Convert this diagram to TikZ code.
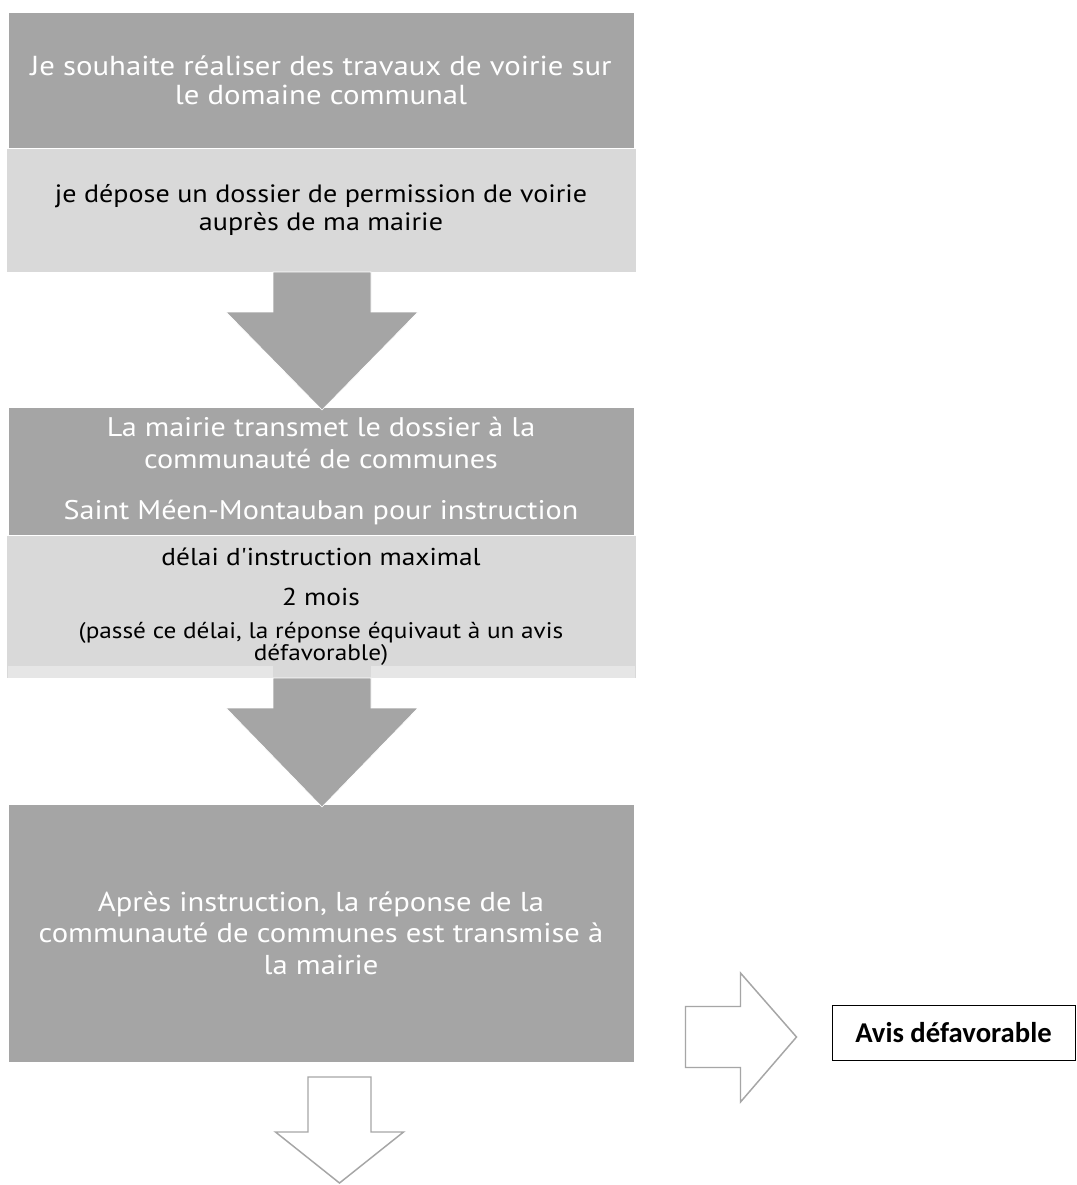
\documentclass[tikz,border=0pt]{standalone}
\usepackage{fontspec}
\setmainfont{PT Sans}
\newfontfamily\wfont[FakeStretch=1.12]{PT Sans}
\newfontfamily\avisfont{Carlito}
\usetikzlibrary{calc}
\definecolor{darkfill}{HTML}{A5A5A5}
\definecolor{lightfill}{HTML}{D9D9D9}
\definecolor{stripfill}{HTML}{E6E6E6}
\definecolor{outlinegray}{HTML}{A6A6A6}
\begin{document}
\begin{tikzpicture}[x=0.75pt,y=-0.75pt,
  darkbox/.style={rectangle, fill=darkfill, draw=white, line width=0.4pt, inner sep=0pt, outer sep=0pt, text=white, align=center},
  lightbox/.style={rectangle, fill=lightfill, draw=white, line width=0.4pt, inner sep=0pt, outer sep=0pt, text=black, align=center},
  fullarrow/.style={fill=darkfill, draw=white, line width=0.5pt},
  hollowarrow/.style={fill=white, draw=outlinegray, line width=1.1pt},
  avisbox/.style={rectangle, draw=black, line width=0.75pt, fill=white, inner sep=0pt, font=\avisfont\bfseries\fontsize{21.5}{24}\selectfont}]
\useasboundingbox (0,0) rectangle (1076,1185);
\fill[white] (0,0) rectangle (1076,1185);

% boxes
\node[darkbox, font=\wfont\fontsize{20.6}{21.75}\selectfont, minimum width=469.5pt, minimum height=102pt] (b1) at (321,80)
  {Je souhaite réaliser des travaux de voirie sur\\le domaine communal};
\node[lightbox, font=\wfont\fontsize{18.8}{20.5}\selectfont, minimum width=472.5pt, minimum height=93pt] (b2) at (321,210)
  {je dépose un dossier de permission de voirie\\auprès de ma mairie};
\node[darkbox, font=\wfont\fontsize{20.2}{24}\selectfont, minimum width=469.5pt, minimum height=96pt] (b3) at (321,471)
  {La mairie transmet le dossier à la\\communauté de communes\\[14pt]Saint Méen-Montauban pour instruction};
\node[lightbox, minimum width=472.5pt, minimum height=107.25pt] (b4) at (321,606.5) {};
\fill[stripfill] (8,666) rectangle (635,678);
\fill[lightfill] (273,666) rectangle (371,678);
\node[align=center, font=\wfont\fontsize{18.3}{30}\selectfont] (t4a) at (321,577)
  {délai d'instruction maximal\\2 mois};
\node[align=center, font=\wfont\fontsize{16.9}{16.5}\selectfont] (t4b) at (321,644)
  {(passé ce délai, la réponse équivaut à un avis\\défavorable)};
\node[darkbox, font=\wfont\fontsize{20.5}{23.6}\selectfont, minimum width=469.5pt, minimum height=193.5pt] (b5) at (321,933)
  {Après instruction, la réponse de la\\communauté de communes est transmise à\\la mairie};
\node[avisbox, minimum width=182.25pt, minimum height=41.25pt] (avis) at (953.5,1032.5) {Avis défavorable};

% filled arrows
\coordinate (a1) at ($(b2.south)+(1,0)$);
\fill[fullarrow] ($(a1)+(-49,0)$) -- ($(a1)+(-49,40)$) -- ($(a1)+(-96,40)$) -- ($(b3.north -| a1)+(0,3)$)
  -- ($(a1)+(96,40)$) -- ($(a1)+(49,40)$) -- ($(a1)+(49,0)$) -- cycle;
\coordinate (a2) at ($(b4.south)+(1,0)$);
\fill[fullarrow] ($(a2)+(-49,0)$) -- ($(a2)+(-49,30)$) -- ($(a2)+(-96,30)$) -- ($(b5.north -| a2)+(0,3)$)
  -- ($(a2)+(96,30)$) -- ($(a2)+(49,30)$) -- ($(a2)+(49,0)$) -- cycle;

% hollow down arrow
\coordinate (d1) at ($(b5.south)+(18.5,15)$);
\draw[hollowarrow] ($(d1)+(-31.5,0)$) -- ($(d1)+(-31.5,55)$) -- ($(d1)+(-64,55)$) -- ($(d1)+(0,106)$)
  -- ($(d1)+(64,55)$) -- ($(d1)+(31.5,55)$) -- ($(d1)+(31.5,0)$) -- cycle;

% hollow right arrow
\coordinate (r1) at ($(avis.west)+(-146,4.5)$);
\draw[hollowarrow] ($(r1)+(0,-30.5)$) -- ($(r1)+(55,-30.5)$) -- ($(r1)+(55,-64)$) -- ($(r1)+(111,0)$)
  -- ($(r1)+(55,65)$) -- ($(r1)+(55,30.5)$) -- ($(r1)+(0,30.5)$) -- cycle;
\end{tikzpicture}
\end{document}
